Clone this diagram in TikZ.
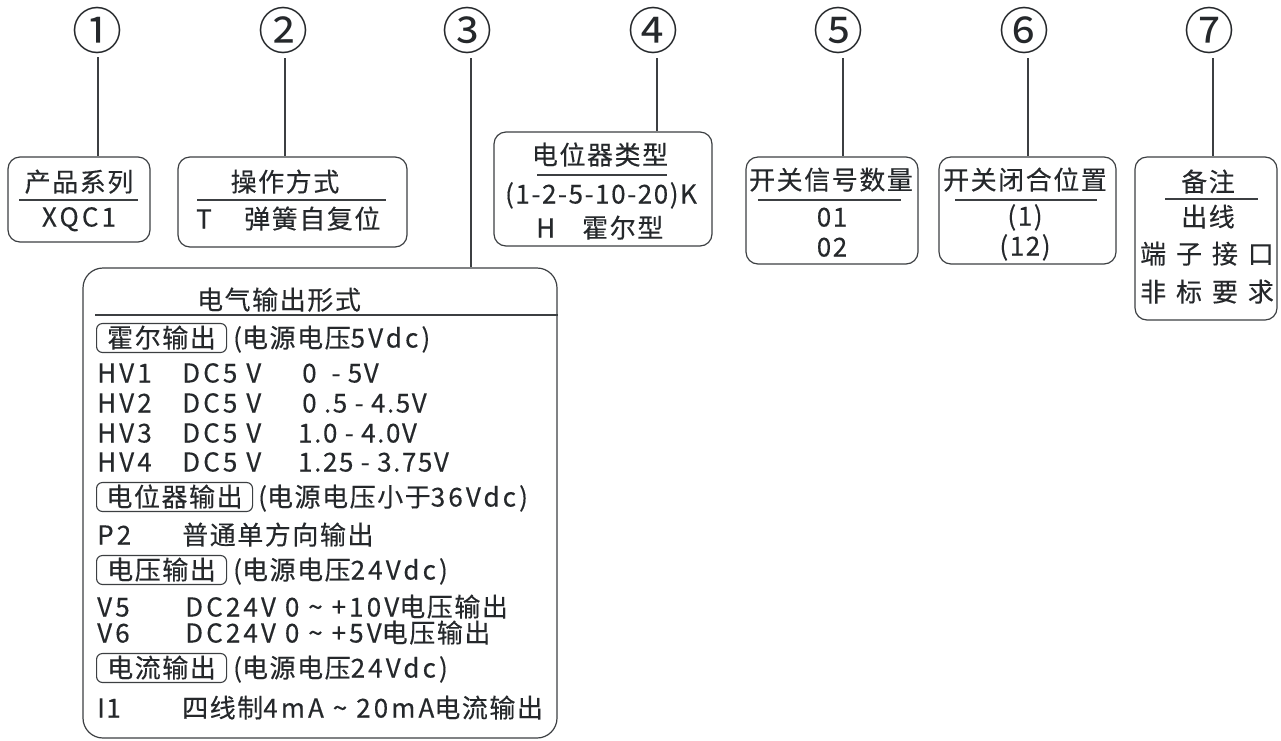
\documentclass[tikz,border=0pt]{standalone}
\usepackage{fontspec}
\setmainfont{Noto Sans CJK SC}
\newfontfamily\zh[LetterSpace=6,FakeBold=0.3]{Noto Sans CJK SC}
\newfontfamily\la[LetterSpace=12,FakeBold=0.3]{Noto Sans CJK SC}
\newfontfamily\zhw[LetterSpace=38,FakeBold=0.3]{Noto Sans CJK SC}
\newfontfamily\zhn{Noto Sans CJK SC}
\definecolor{ink}{HTML}{25282B}
\definecolor{edge}{HTML}{3C3F42}
\newcommand{\tl}{\textasciitilde}
\newcommand{\lt}[1]{{\la #1}}
\begin{document}
\begin{tikzpicture}[x=1pt,y=-1pt,
  txt/.style={inner sep=0pt, text height=23pt, text depth=4pt, text=ink, font=\zh\fontsize{26}{30}\selectfont},
  wide/.style={txt, font=\zhw\fontsize{26}{30}\selectfont},
  num/.style={inner sep=0pt, text=ink, font=\zhn\fontsize{50}{54}\selectfont},
  box/.style={draw=edge, line width=1.2pt, rounded corners=12pt, inner sep=0pt},
  lbl/.style={draw=edge, line width=1.1pt, rounded corners=6pt, inner sep=0pt, text height=23pt, text depth=4pt, text=ink, font=\zh\fontsize{26}{30}\selectfont},
  wire/.style={draw=edge, line width=1.2pt},
  rule/.style={draw=edge, line width=1.2pt}]
\useasboundingbox (0,0) rectangle (1281,740);

% circled numbers
\node[num] (n1) at (97,30) {①};
\node[num] (n2) at (283,30) {②};
\node[num] (n3) at (467,30) {③};
\node[num] (n4) at (653,30) {④};
\node[num] (n5) at (838,30) {⑤};
\node[num] (n6) at (1024,30) {⑥};
\node[num] (n7) at (1209,30) {⑦};

% boxes
\node[box, minimum width=142pt, minimum height=85pt] (b1) at (79,199.5) {};
\node[box, minimum width=229pt, minimum height=90pt] (b2) at (292.5,202) {};
\node[box, minimum width=474pt, minimum height=470pt, rounded corners=20pt] (b3) at (320,503) {};
\node[box, minimum width=218pt, minimum height=114pt] (b4) at (603,189) {};
\node[box, minimum width=172pt, minimum height=107pt] (b5) at (832,210.5) {};
\node[box, minimum width=177pt, minimum height=107pt] (b6) at (1027.5,210.5) {};
\node[box, minimum width=142pt, minimum height=163pt] (b7) at (1206,238.5) {};

% connectors
\coordinate (t1) at (98,57);
\coordinate (t2) at (285,58);
\coordinate (t3) at (471,58);
\coordinate (t4) at (657,58);
\coordinate (t5) at (843,58);
\coordinate (t6) at (1028,58);
\coordinate (t7) at (1213,58);
\draw[wire] (t1) -- (t1 |- b1.north);
\draw[wire] (t2) -- (t2 |- b2.north);
\draw[wire] (t3) -- (t3 |- b3.north);
\draw[wire] (t4) -- (t4 |- b4.north);
\draw[wire] (t5) -- (t5 |- b5.north);
\draw[wire] (t6) -- (t6 |- b6.north);
\draw[wire] (t7) -- (t7 |- b7.north);

% box 1
\node[txt] (b1t) at (79,182) {产品系列};
\draw[rule] (19,200) -- (138,200);
\node[txt] (b1a) at (79,217) {\lt{XQC1}};

% box 2
\node[txt] (b2t) at (285,182) {操作方式};
\draw[rule] (197,200) -- (386,200);
\node[txt, anchor=west] (b2a) at (196,219) {T};
\node[txt, anchor=west] (b2b) at (244,219) {弹簧自复位};

% box 4
\node[txt] (b4t) at (600,155) {电位器类型};
\draw[rule] (537,175) -- (667,175);
\node[txt] (b4a) at (601,194) {(1-2-5-10-20)K};
\node[txt, anchor=west] (b4b) at (536,228) {H};
\node[txt, anchor=west] (b4c) at (582,228) {霍尔型};

% box 5
\node[txt] (b5t) at (831,180) {开关信号数量};
\draw[rule] (758,200) -- (901,200);
\node[txt] (b5a) at (832,217) {01};
\node[txt] (b5b) at (832,247) {02};

% box 6
\node[txt] (b6t) at (1025,180) {开关闭合位置};
\draw[rule] (955,200) -- (1097,200);
\node[txt] (b6a) at (1025,216) {(1)};
\node[txt] (b6b) at (1025,246) {(12)};

% box 7
\node[txt] (b7t) at (1208,182) {备注};
\draw[rule] (1165,199) -- (1258,199);
\node[txt] (b7a) at (1208,217) {出线};
\node[wide] (b7b) at (1207,254) {端子接口};
\node[wide] (b7c) at (1207,292) {非标要求};

% big box
\node[txt] (b3t) at (279,300) {电气输出形式};
\draw[rule] (95,315) -- (b3.east |- 0,315);

\node[lbl, minimum width=130pt, minimum height=29pt, anchor=west] (l1) at (96,338) {霍尔输出};
\node[txt, anchor=west] (l1n) at (233,338) {\lt{(}电源电压\lt{5Vdc)}};
\node[txt, anchor=west] (h1) at (97,373) {\lt{HV1}};
\node[txt, anchor=west] (h1b) at (182,373) {\lt{DC5 V}};
\node[txt, anchor=west] (h1c) at (302,373) {0 \ - 5V};
\node[txt, anchor=west] (h2) at (97,403) {\lt{HV2}};
\node[txt, anchor=west] (h2b) at (182,403) {\lt{DC5 V}};
\node[txt, anchor=west] (h2c) at (302,403) {0 .5 - 4.5V};
\node[txt, anchor=west] (h3) at (97,433) {\lt{HV3}};
\node[txt, anchor=west] (h3b) at (182,433) {\lt{DC5 V}};
\node[txt, anchor=west] (h3c) at (298,433) {1.0 - 4.0V};
\node[txt, anchor=west] (h4) at (97,462) {\lt{HV4}};
\node[txt, anchor=west] (h4b) at (182,462) {\lt{DC5 V}};
\node[txt, anchor=west] (h4c) at (298,462) {1.25 - 3.75V};

\node[lbl, minimum width=156pt, minimum height=29pt, anchor=west] (l2) at (96,497) {电位器输出};
\node[txt, anchor=west] (l2n) at (258,497) {\lt{(}电源电压小于\lt{36Vdc)}};
\node[txt, anchor=west] (p2) at (97,535) {\lt{P2}};
\node[txt, anchor=west] (p2b) at (182,535) {普通单方向输出};

\node[lbl, minimum width=130pt, minimum height=29pt, anchor=west] (l3) at (96,570) {电压输出};
\node[txt, anchor=west] (l3n) at (233,570) {\lt{(}电源电压\lt{24Vdc)}};
\node[txt, anchor=west] (v5) at (97,607) {\lt{V5}};
\node[txt, anchor=west] (v5b) at (185,607) {\lt{DC24V 0 \tl{} +10V}电压输出};
\node[txt, anchor=west] (v6) at (97,633) {\lt{V6}};
\node[txt, anchor=west] (v6b) at (185,633) {\lt{DC24V 0 \tl{} +5V}电压输出};

\node[lbl, minimum width=130pt, minimum height=29pt, anchor=west] (l4) at (96,668) {电流输出};
\node[txt, anchor=west] (l4n) at (233,668) {\lt{(}电源电压\lt{24Vdc)}};
\node[txt, anchor=west] (i1) at (97,708) {I1};
\node[txt, anchor=west] (i1b) at (182,708) {四线制\lt{4mA \tl{} 20mA}电流输出};
\end{tikzpicture}
\end{document}
